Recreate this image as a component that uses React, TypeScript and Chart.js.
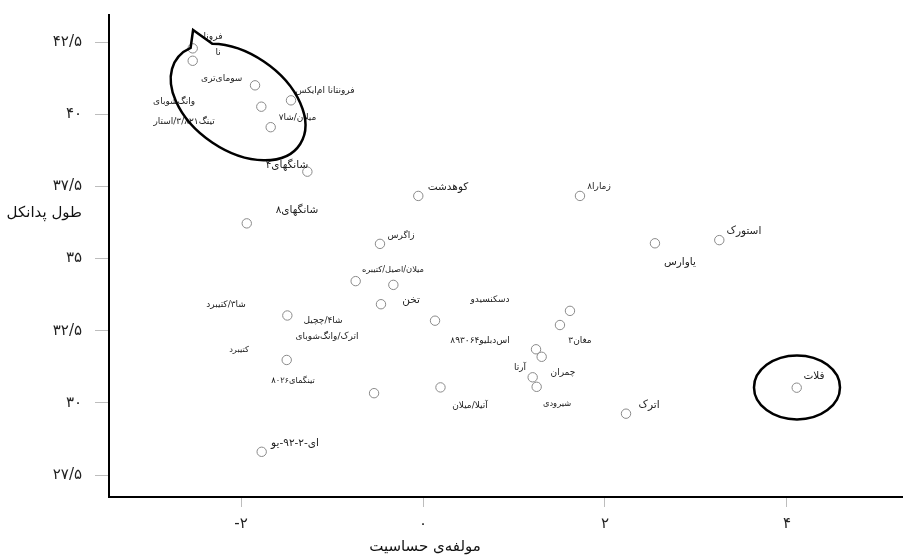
import React, { useEffect, useRef } from 'react';
import { Chart, registerables } from 'chart.js';

Chart.register(...registerables);

// ---- data (sensitivity index vs. peduncle length) ----
const pointX = [
  -2.531, -2.531, -1.846, -1.451, -1.777, -1.674, -1.271, -1.937, -0.052, 1.725,
  -0.473, -0.74, -0.326, -0.462, -1.491, 0.132, 1.615, 1.505, 1.242, 1.304,
  1.205, 1.249, 0.192, 2.231, -1.498, -0.538, -1.773, 2.549, 3.256, 4.107,
];
const pointY = [
  42.28, 41.85, 41.0, 40.48, 40.26, 39.55, 38.01, 36.22, 37.17, 37.17,
  35.51, 34.22, 34.09, 33.42, 33.03, 32.85, 33.19, 32.7, 31.86, 31.6,
  30.89, 30.56, 30.54, 29.63, 31.49, 30.34, 28.31, 35.53, 35.64, 30.53,
];

// ---- cultivar names and where their names sit (data coordinates) ----
const labelText = [
  'فرونا', 'نا', 'سومای‌تری', 'فرونتانا ام‌ایکس', 'وانگ‌شوبای', 'تینگ۳/۸۲۱/استار',
  'میلان/شا۷', 'شانگهای۴', 'شانگهای۸', 'کوهدشت', 'زمارا۸', 'زاگرس',
  'میلان/اصیل/کتیبره', 'تخن', 'دسکنسیدو', 'شا۳/کتیبرد', 'شا۴/چچیل', 'اترک/وانگ‌شوبای',
  'کتیبرد', 'تینگمای۸۰۲۶', 'ای-۲-۹۲-یو', 'اس‌دبلیو۸۹۳۰۶۴', 'مغان۳', 'آرتا',
  'چمران', 'شیرودی', 'آتیلا/میلان', 'اترک', 'یاوارس', 'استورک', 'فلات',
];
const labelX = [
  -2.308, -2.253, -2.212, -1.077, -2.736, -2.626,
  -1.379, -1.495, -1.385, 0.275, 1.934, -0.242,
  -0.33, -0.132, 0.736, -2.165, -1.099, -1.055,
  -2.022, -1.429, -1.407, 0.626, 1.725, 1.066,
  1.538, 1.473, 0.516, 2.484, 2.824, 3.527, 4.297,
];
const labelY = [
  42.67, 42.12, 41.24, 40.8, 40.43, 39.74,
  39.87, 38.24, 36.66, 37.48, 37.49, 35.78,
  34.61, 33.57, 33.57, 33.39, 32.84, 32.3,
  31.84, 30.76, 28.62, 32.15, 32.15, 31.21,
  31.05, 29.97, 29.9, 29.93, 34.86, 35.93, 30.94,
];

const xTickValues = [-2, 0, 2, 4];
const xTickLabels = ['-۲', '۰', '۲', '۴'];
const yTickValues = [27.5, 30, 32.5, 35, 37.5, 40, 42.5];
const yTickLabels = ['۲۷/۵', '۳۰', '۳۲/۵', '۳۵', '۳۷/۵', '۴۰', '۴۲/۵'];

const xAxisTitle = 'مولفه‌ی حساسیت';
const yAxisTitle = 'طول پدانکل';

// highlighted groups (centres in data coordinates)
const clusterCentre = { x: -2.033, y: 40.42 };
const clusterTip = { x: -2.527, y: 42.915 };
const loneCentre = { x: 4.11, y: 30.54 };

// ---- styling of the name labels ----
const FONT = '"DejaVu Sans", "Noto Sans", sans-serif';
const LARGE_NAMES = new Set(['شانگهای۴', 'شانگهای۸', 'کوهدشت', 'تخن', 'ای-۲-۹۲-یو', 'اترک', 'یاوارس', 'استورک', 'فلات']);
const TINY_NAMES = new Set(['میلان/اصیل/کتیبره', 'کتیبرد', 'تینگمای۸۰۲۶', 'شیرودی']);

const annotate = {
  id: 'annotate',
  afterDraw(chart: any) {
    const { ctx, scales } = chart;
    const xs = scales.x;
    const ys = scales.y;
    ctx.save();

    // point names
    ctx.fillStyle = '#222';
    ctx.textAlign = 'center';
    ctx.textBaseline = 'middle';
    (ctx as any).direction = 'rtl';
    labelText.forEach((t, i) => {
      const size = LARGE_NAMES.has(t) ? 10.5 : TINY_NAMES.has(t) ? 8.3 : 9;
      ctx.font = `${size}px ${FONT}`;
      ctx.fillText(t, xs.getPixelForValue(labelX[i]), ys.getPixelForValue(labelY[i]));
    });

    // callout outline around the top-left cluster
    ctx.strokeStyle = '#000';
    ctx.lineWidth = 2.5;
    const cx = xs.getPixelForValue(clusterCentre.x);
    const cy = ys.getPixelForValue(clusterCentre.y);
    const deg = Math.PI / 180;
    ctx.beginPath();
    ctx.ellipse(cx, cy, 75, 48, 35 * deg, 223.4 * deg, (201.1 + 360) * deg, false);
    ctx.lineTo(xs.getPixelForValue(clusterTip.x), ys.getPixelForValue(clusterTip.y));
    ctx.closePath();
    ctx.stroke();

    // circle around the lone point
    ctx.beginPath();
    ctx.ellipse(xs.getPixelForValue(loneCentre.x), ys.getPixelForValue(loneCentre.y), 43, 32, 0, 0, Math.PI * 2);
    ctx.stroke();

    // axis titles
    ctx.fillStyle = '#111';
    ctx.font = `15px ${FONT}`;
    ctx.textAlign = 'center';
    ctx.fillText(xAxisTitle, 425, 547);
    ctx.textAlign = 'right';
    ctx.fillText(yAxisTitle, 82, 213);
    ctx.restore();
  },
};

export default function App() {
  const ref = useRef<HTMLCanvasElement | null>(null);

  useEffect(() => {
    if (!ref.current) return;
    const chart = new Chart(ref.current, {
      type: 'scatter',
      data: {
        datasets: [
          {
            data: pointX.map((x, i) => ({ x, y: pointY[i] })),
            pointStyle: 'circle',
            pointRadius: 4.7,
            pointBorderWidth: 1,
            pointBorderColor: '#8a8a8a',
            pointBackgroundColor: 'rgba(255,255,255,0)',
            showLine: false,
          },
        ],
      },
      options: {
        responsive: false,
        animation: false,
        devicePixelRatio: 1,
        layout: { autoPadding: false, padding: { top: 15, left: 0, right: 0, bottom: 0 } },
        plugins: { legend: { display: false }, tooltip: { enabled: false } },
        scales: {
          x: {
            type: 'linear',
            position: 'bottom',
            min: -3.451,
            max: 5.275,
            bounds: 'data',
            afterBuildTicks: (s: any) => {
              s.ticks = xTickValues.map((v) => ({ value: v }));
            },
            afterFit: (s: any) => {
              s.height = 61;
              s.paddingLeft = 0;
              s.paddingRight = 0;
            },
            ticks: {
              autoSkip: false,
              maxRotation: 0,
              padding: 8,
              color: '#222',
              font: { family: FONT, size: 15 },
              callback: (_v: any, i: number) => xTickLabels[i],
            },
            grid: { drawOnChartArea: false, drawTicks: true, tickLength: 10, color: '#bdbdbd', lineWidth: 1 },
            border: { display: true, color: '#000', width: 2 },
          },
          y: {
            type: 'linear',
            position: 'left',
            min: 26.745,
            max: 43.435,
            bounds: 'data',
            afterBuildTicks: (s: any) => {
              s.ticks = yTickValues.map((v) => ({ value: v }));
            },
            afterFit: (s: any) => {
              s.width = 109;
              s.paddingTop = 0;
              s.paddingBottom = 0;
            },
            ticks: {
              autoSkip: false,
              padding: 13,
              color: '#222',
              font: { family: FONT, size: 15 },
              callback: (_v: any, i: number) => yTickLabels[i],
            },
            grid: { drawOnChartArea: false, drawTicks: true, tickLength: 14, color: '#bdbdbd', lineWidth: 1 },
            border: { display: true, color: '#000', width: 2 },
          },
        },
      } as any,
      plugins: [annotate],
    });
    return () => chart.destroy();
  }, []);

  return (
    <div style={{ position: 'absolute', left: 0, top: 0, width: 903, height: 558, background: '#fff' }}>
      <canvas ref={ref} width={903} height={558} />
    </div>
  );
}
